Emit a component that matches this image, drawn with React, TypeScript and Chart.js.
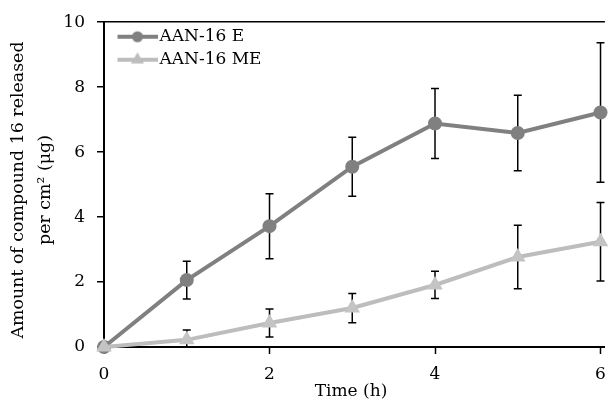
import React, { useEffect, useRef } from "react";
import { Chart, registerables } from "chart.js";

Chart.register(...registerables);

const timeHours = [0, 1, 2, 3, 4, 5, 6];
const seriesE = [0, 2.06, 3.72, 5.55, 6.88, 6.59, 7.22];
const sdE = [0, 0.58, 1.0, 0.91, 1.08, 1.16, 2.15];
const seriesME = [0, 0.22, 0.74, 1.2, 1.91, 2.77, 3.24];
const sdME = [0, 0.3, 0.43, 0.45, 0.42, 0.98, 1.21];
const xTicks = [0, 2, 4, 6];
const yTicks = [0, 2, 4, 6, 8, 10];
const labelE = "AAN-16 E";
const labelME = "AAN-16 ME";
const xTitle = "Time (h)";
const yTitle = ["Amount of compound 16 released", "per cm\u00B2 (\u03BCg)"];

const FONT = "'DejaVu Serif', serif";
const colorE = "#808080";
const colorME = "#bdbdbd";

function legendImage(kind: "circle" | "triangle", color: string) {
  const c = document.createElement("canvas");
  c.width = 54;
  c.height = 18;
  const g = c.getContext("2d")!;
  g.strokeStyle = color;
  g.lineWidth = 4;
  g.beginPath();
  g.moveTo(14, 9);
  g.lineTo(54, 9);
  g.stroke();
  g.fillStyle = color;
  g.beginPath();
  if (kind === "circle") {
    g.arc(34, 9, 5.5, 0, Math.PI * 2);
  } else {
    const r = 7.5;
    g.moveTo(34, 9 - r);
    g.lineTo(34 + r * 0.866, 9 + r * 0.5);
    g.lineTo(34 - r * 0.866, 9 + r * 0.5);
    g.closePath();
  }
  g.fill();
  return c;
}

const errorBars = {
  id: "errorBars",
  beforeDatasetsDraw(chart: any) {
    const { ctx, scales, chartArea } = chart;
    const sets = [
      { v: seriesE, e: sdE },
      { v: seriesME, e: sdME },
    ];
    ctx.save();
    ctx.beginPath();
    ctx.rect(chartArea.left, chartArea.top - 2, chartArea.right - chartArea.left, chartArea.bottom - chartArea.top + 1);
    ctx.clip();
    ctx.strokeStyle = "#000";
    ctx.lineWidth = 1.5;
    sets.forEach((s) => {
      s.v.forEach((val, i) => {
        const err = s.e[i];
        if (!err) return;
        const x = scales.x.getPixelForValue(timeHours[i]);
        const yt = scales.y.getPixelForValue(val + err);
        const yb = scales.y.getPixelForValue(val - err);
        ctx.beginPath();
        ctx.moveTo(x, yt);
        ctx.lineTo(x, yb);
        ctx.moveTo(x - 4, yt);
        ctx.lineTo(x + 4, yt);
        ctx.moveTo(x - 4, yb);
        ctx.lineTo(x + 4, yb);
        ctx.stroke();
      });
    });
    ctx.restore();
  },
};

const legendInside = {
  id: "legendInside",
  afterLayout(chart: any) {
    const lg = chart.legend;
    if (!lg) return;
    const a = chart.chartArea;
    const h = lg.height;
    const w = lg.width;
    lg.top = a.top;
    lg.left = a.left;
    lg.bottom = a.top + h;
    lg.right = a.left + w;
  },
};

const axisTitles = {
  id: "axisTitles",
  afterDraw(chart: any) {
    const { ctx } = chart;
    ctx.save();
    ctx.fillStyle = "#000";
    ctx.font = `17px ${FONT}`;
    ctx.textAlign = "center";
    ctx.textBaseline = "middle";
    ctx.fillText(xTitle, 351, 392);
    ctx.translate(0, 190);
    ctx.rotate(-Math.PI / 2);
    ctx.font = `17.4px ${FONT}`;
    ctx.fillText(yTitle[0], 0, 18);
    ctx.fillText(yTitle[1], 0, 45);
    ctx.restore();
  },
};

export default function App() {
  const ref = useRef<HTMLCanvasElement | null>(null);
  useEffect(() => {
    document.body.style.margin = "0";
    document.body.style.overflow = "hidden";
    const imgE = legendImage("circle", colorE);
    const imgME = legendImage("triangle", colorME);
    const chart = new Chart(ref.current!, {
      type: "line",
      data: {
        datasets: [
          {
            label: labelE,
            data: timeHours.map((t, i) => ({ x: t, y: seriesE[i] })),
            borderColor: colorE,
            backgroundColor: colorE,
            borderWidth: 4,
            pointStyle: "circle",
            pointRadius: 7,
            pointBorderWidth: 0,
            pointBackgroundColor: colorE,
            order: 1,
            clip: false as any,
          },
          {
            label: labelME,
            data: timeHours.map((t, i) => ({ x: t, y: seriesME[i] })),
            borderColor: colorME,
            backgroundColor: colorME,
            borderWidth: 4,
            pointStyle: "triangle",
            pointRadius: 9,
            pointBorderWidth: 0,
            pointBackgroundColor: "#c4c4c4",
            order: 0,
            clip: false as any,
          },
        ],
      },
      options: {
        animation: false,
        responsive: false,
        devicePixelRatio: 1,
        layout: { padding: { top: 22, left: 0, right: 0, bottom: 0 } },
        plugins: {
          tooltip: { enabled: false },
          legend: {
            position: "chartArea" as any,
            align: "start",
            labels: {
              usePointStyle: true,
              pointStyleWidth: 41,
              padding: 6,
              color: "#000",
              font: { family: FONT, size: 17 },
              generateLabels: () => [
                { text: labelE, pointStyle: imgE, fillStyle: colorE, strokeStyle: colorE, lineWidth: 0, datasetIndex: 0, hidden: false } as any,
                { text: labelME, pointStyle: imgME, fillStyle: colorME, strokeStyle: colorME, lineWidth: 0, datasetIndex: 1, hidden: false } as any,
              ],
            },
          },
        },
        scales: {
          x: {
            type: "linear",
            min: 0,
            max: 6.053,
            afterBuildTicks: (s: any) => {
              s.ticks = xTicks.map((v) => ({ value: v }));
            },
            afterFit: (s: any) => {
              s.height = 57;
            },
            grid: {
              drawOnChartArea: false,
              drawTicks: true,
              tickLength: 7,
              tickColor: "#000",
              tickWidth: 1.5,
            },
            border: { display: true, color: "#000", width: 2 },
            ticks: {
              color: "#000",
              padding: 10,
              maxRotation: 0,
              autoSkip: false,
              font: { family: FONT, size: 17 },
            },
          },
          y: {
            type: "linear",
            min: 0,
            max: 10,
            afterBuildTicks: (s: any) => {
              s.ticks = yTicks.map((v) => ({ value: v }));
            },
            afterFit: (s: any) => {
              s.width = 104;
            },
            grid: {
              drawOnChartArea: true,
              color: (c: any) => (c.tick && c.tick.value === 10 ? "#000" : "rgba(0,0,0,0)"),
              lineWidth: 1.5,
              drawTicks: true,
              tickLength: 7,
              tickColor: "#000",
              tickWidth: 1.5,
            },
            border: { display: true, color: "#000", width: 2 },
            ticks: {
              color: "#000",
              padding: 12,
              font: { family: FONT, size: 17 },
            },
          },
        },
      },
      plugins: [legendInside, errorBars, axisTitles],
    });
    return () => chart.destroy();
  }, []);
  return (
    <div style={{ width: 616, height: 404 }}>
      <canvas ref={ref} width={616} height={404} />
    </div>
  );
}
